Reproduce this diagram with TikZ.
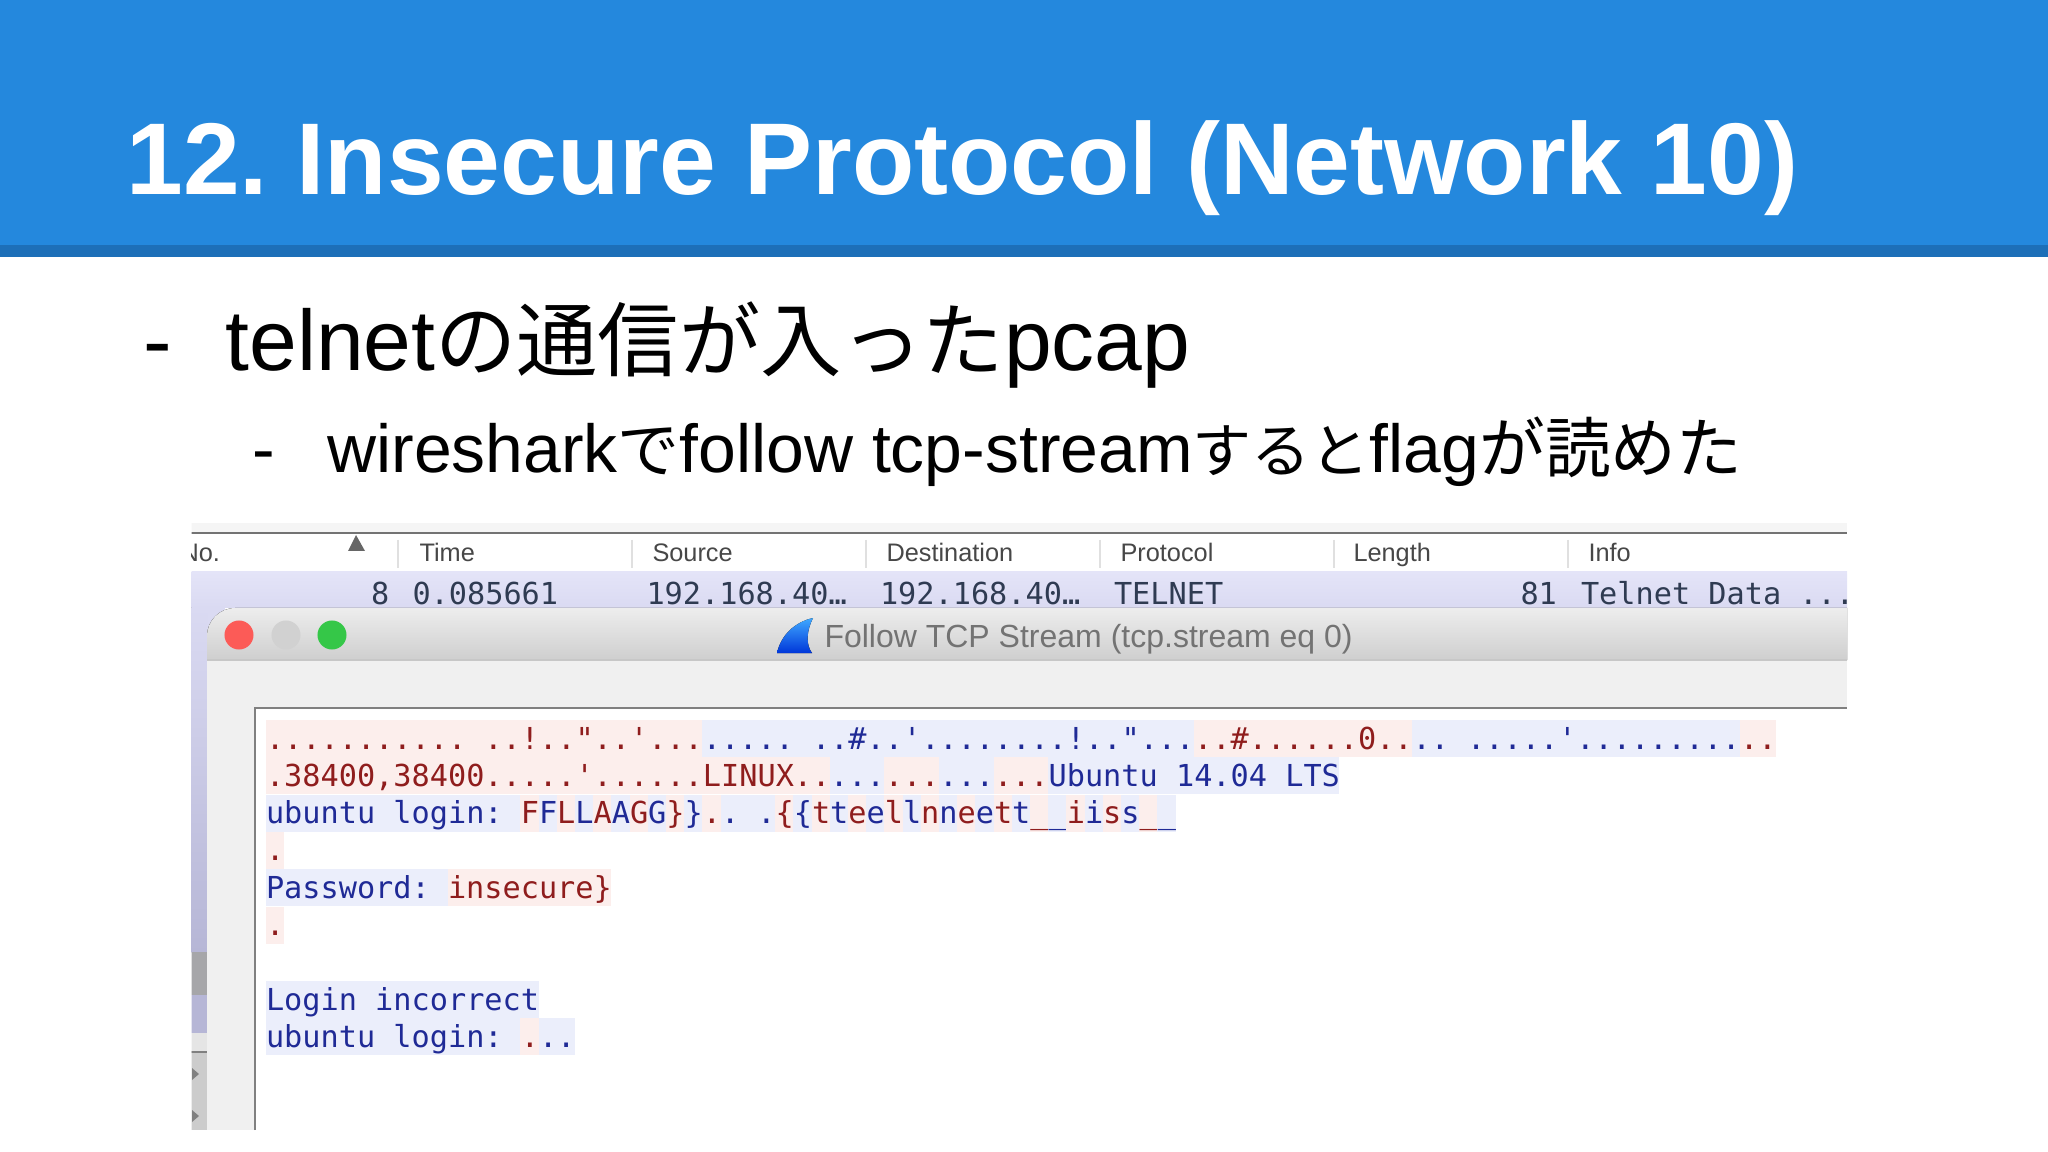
\documentclass[tikz,border=0pt]{standalone}
\usepackage{fontspec}
\setmainfont{Liberation Sans}
\newfontfamily\cjk{Noto Sans CJK JP}
\newfontfamily\streamfont{DejaVu Sans Mono}
\usetikzlibrary{positioning}
\definecolor{headblue}{HTML}{2488DD}
\definecolor{headdark}{HTML}{1D6FB8}
\definecolor{redink}{HTML}{8F1D1D}
\definecolor{blueink}{HTML}{1F2A96}
\definecolor{redtint}{HTML}{FCEEEC}
\definecolor{bluetint}{HTML}{EBEEFB}
\definecolor{rowink}{HTML}{2F3B52}
\definecolor{rowtop}{HTML}{E4E4F8}
\definecolor{rowlow}{HTML}{DADAF2}
\definecolor{striplow}{HTML}{B6B6D6}
\tikzset{txt/.style = {draw=none, inner sep=0, anchor=base west},
  hdrlabel/.style = {txt, font=\fontsize{7.2}{9}\selectfont, text=black!72},
  rowtext/.style = {txt, font=\streamfont\fontsize{8.6}{10}\selectfont, text=rowink},
  strink/.style = {txt, font=\streamfont\fontsize{8.6}{10}\selectfont},
  light/.style = {circle, draw=none, minimum size=29*0.2845pt, inner sep=0}}
% line, first char, last char, tint, ink, text
\newcommand{\seg}[6]{
  \fill [#4] ({265.5+18.2*#2},{720+37.3*(#1-1)}) rectangle ({265.5+18.2*#3},{757+37.3*(#1-1)});
  \node [strink, text=#5] (s#1x#2) at ({265.5+18.2*#2},{749+37.3*(#1-1)}) {#6};}
\newcommand{\sizedjp}[2]{{\cjk\fontsize{#1}{28}\selectfont #2}}
\begin{document}
\frenchspacing
\begin{tikzpicture}[x=.01cm, y=-.01cm, line width=.2845pt]
\useasboundingbox (0,0) rectangle (2048,1152);
%head band
\fill [headblue] (0,0) rectangle (2048,245);
\fill [headdark] (0,245) rectangle (2048,257);
\node [txt, text=white, font=\fontsize{29}{32}\selectfont\bfseries] (title) at (126,195) {12. Insecure Protocol (Network 10)};
%bullets
\node [txt, font=\fontsize{24.4}{28}\selectfont] (dashA) at (143,371) {-};
\node [txt, font=\fontsize{24.4}{28}\selectfont] (itemA) at (225,371) {telnet\sizedjp{23.1}{の通信が入った}pcap};
\node [txt, font=\fontsize{19.3}{22}\selectfont] (dashB) at (252,473) {-};
\node [txt, font=\fontsize{19.3}{22}\selectfont] (itemB) at (327,473) {wireshark\sizedjp{17.6}{で}follow tcp-stream\sizedjp{16.8}{すると}flag\sizedjp{18.7}{が読めた}};
%screenshot
\begin{scope}
\clip (191.5,523) rectangle (1847,1130);
\fill [black!4] (191,523) rectangle (1847,532);
\fill [white] (191,534) rectangle (1847,572);
\fill [black!55] (191,532) rectangle (1847,534.5);
\foreach \x in {398,632,866,1100,1334,1568}
  \draw [black!12, line width=.4pt] (\x,540) -- (\x,568);
\fill [black!60] (356,535) -- (365,551) -- (348,551) -- cycle;
\node [hdrlabel] (no) at (180,562) {No.};
\node [hdrlabel] (time) at (419,562) {Time};
\node [hdrlabel] (source) at (652,562) {Source};
\node [hdrlabel] (dest) at (886,562) {Destination};
\node [hdrlabel] (proto) at (1120,562) {Protocol};
\node [hdrlabel] (length) at (1353,562) {Length};
\node [hdrlabel] (info) at (1588,562) {Info};
\fill [top color=rowtop, bottom color=rowlow] (191,572) rectangle (1847,608);
\node [rowtext] (rowno) at (370.5,604) {8};
\node [rowtext] (rowtime) at (412,604) {0.085661};
\node [rowtext] (rowsrc) at (646,604) {192.168.40…};
\node [rowtext] (rowdst) at (879.5,604) {192.168.40…};
\node [rowtext] (rowproto) at (1113.5,604) {TELNET};
\node [rowtext] (rowlen) at (1520,604) {81};
\node [rowtext] (rowinfo) at (1580.5,604) {Telnet Data ...};
%left strip
\fill [rowlow] (191,606) rectangle (225,630);
\fill [top color=rowlow, bottom color=striplow] (191,608) rectangle (207,952);
\fill [blue!4!black!35] (191,952) rectangle (207,995);
\fill [striplow] (191,995) rectangle (207,1033);
\fill [black!10] (191,1033) rectangle (207,1051);
\fill [black!20] (191,1051) rectangle (207,1130);
\draw [black!50, line width=.6pt] (191,1052) -- (207,1052);
\fill [black!50] (192,1068) -- (199,1074) -- (192,1080) -- cycle;
\fill [black!50] (192,1110) -- (199,1116) -- (192,1122) -- cycle;
%stream window
\fill [black!6] (207,660) rectangle (1847,1130);
\fill [top color=black!7, bottom color=black!19] (207,660) [rounded corners=8] -- (207,608) [sharp corners] -- (1860,608) -- (1860,660) -- cycle;
\draw [black!22, line width=.5pt] (207,660) -- (1847,660);
\node [light, fill={rgb,255:red,252;green,91;blue,87}] (close) at (239,635) {};
\node [light, fill=black!18] (hide) at (286,635) {};
\node [light, fill={rgb,255:red,53;green,199;blue,72}] (zoom) at (332,635) {};
\fill [top color=blue!45!cyan!75!white, bottom color=blue!75!cyan!85!black] (777,653) .. controls (781,635) and (795,622) .. (813,618) .. controls (806,632) and (806,645) .. (812,653) -- cycle;
\node [txt, font=\fontsize{9.1}{11}\selectfont, text=black!55] (wintitle) at (824,647) {Follow TCP Stream (tcp.stream eq 0)};
\fill [white] (255,708) rectangle (1847,1130);
\draw [black!50, line width=.7pt] (255,1130) -- (255,708) -- (1847,708);
%stream text
\seg{1}{0}{24}{redtint}{redink}{........... ..!.."..'...}
\seg{1}{24}{51}{bluetint}{blueink}{..... ..\#..'........!.."...}
\seg{1}{51}{63}{redtint}{redink}{..\#......0..}
\seg{1}{63}{81}{bluetint}{blueink}{.. .....'.........}
\seg{1}{81}{83}{redtint}{redink}{..}
\seg{2}{0}{31}{redtint}{redink}{.38400,38400.....'......LINUX..}
\seg{2}{31}{34}{bluetint}{blueink}{...}
\seg{2}{34}{37}{redtint}{redink}{...}
\seg{2}{37}{40}{bluetint}{blueink}{...}
\seg{2}{40}{43}{redtint}{redink}{...}
\seg{2}{43}{59}{bluetint}{blueink}{Ubuntu 14.04 LTS}
\seg{3}{0}{14}{bluetint}{blueink}{ubuntu login: }
\foreach \i/\ch in {14/F,16/L,18/A,20/G,22/\},24/.,28/\{,30/t,32/e,34/l,36/n,38/e,40/t,42/\_,44/i,46/s,48/\_}{
  \pgfmathtruncatemacro{\j}{\i+1}
  \pgfmathtruncatemacro{\k}{\i+2}
  \seg{3}{\i}{\j}{redtint}{redink}{\ch}
  \seg{3}{\j}{\k}{bluetint}{blueink}{\ch}
}
\seg{3}{26}{27}{bluetint}{blueink}{}
\seg{3}{27}{28}{bluetint}{blueink}{.}
\seg{4}{0}{1}{redtint}{redink}{.}
\seg{5}{0}{10}{bluetint}{blueink}{Password: }
\seg{5}{10}{19}{redtint}{redink}{insecure\}}
\seg{6}{0}{1}{redtint}{redink}{.}
\seg{8}{0}{15}{bluetint}{blueink}{Login incorrect}
\seg{9}{0}{14}{bluetint}{blueink}{ubuntu login: }
\seg{9}{14}{15}{redtint}{redink}{.}
\seg{9}{15}{17}{bluetint}{blueink}{..}
\end{scope}
\end{tikzpicture}
\end{document}
